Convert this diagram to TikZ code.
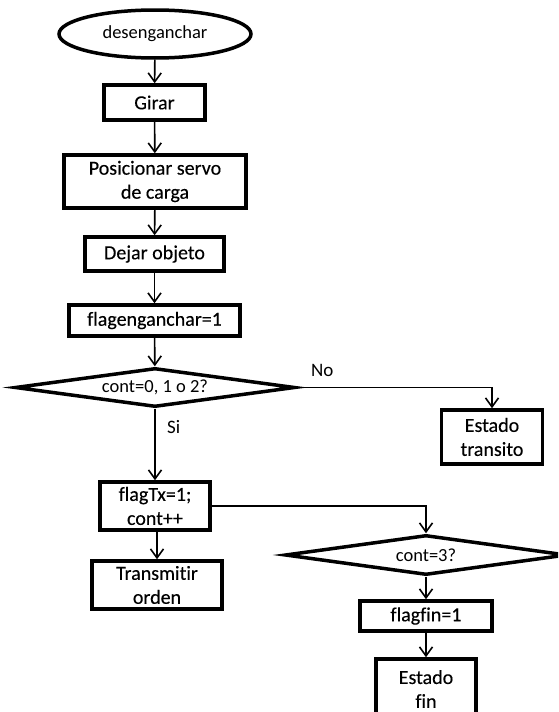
\documentclass[tikz,border=0pt]{standalone}
\usepackage{fontspec}
\setmainfont{Carlito}[Ligatures=NoCommon]
\newfontfamily\boxfont{Carlito}[Ligatures=NoCommon, FakeBold=0.25]
\usetikzlibrary{arrows.meta,shapes.geometric}

\tikzset{
  box/.style={draw, line width=3.5pt, rectangle, align=center, inner sep=0pt,
    font=\boxfont\fontsize{20}{24}\selectfont},
  startnode/.style={draw, line width=3.5pt, ellipse, inner sep=0pt,
    font=\fontsize{18.5}{22}\selectfont},
  decision/.style={draw, line width=3.5pt, diamond, aspect=7, inner sep=0pt,
    font=\fontsize{18.5}{22}\selectfont},
  flow/.style={line width=1.6pt,
    -{Straight Barb[length=9pt,width=13pt]}},
  lbl/.style={font=\fontsize{19}{22}\selectfont, inner sep=0pt},
}

\begin{document}
\begin{tikzpicture}[x=1pt, y=-1pt]
  \useasboundingbox (0,0) rectangle (558,712);
  \clip (0,0) rectangle (558,712);

  % main column
  \node[startnode, minimum width=192pt, minimum height=48pt] (start) at (155,34) {desenganchar};
  \node[box, minimum width=101pt, minimum height=35pt] (girar) at (154.5,102.5) {Girar};
  \node[box, minimum width=182pt, minimum height=53pt] (pos) at (155,181.5) {Posicionar servo\\de carga};
  \node[box, minimum width=139pt, minimum height=34pt] (dejar) at (154.5,254) {Dejar objeto};
  \node[box, minimum width=171pt, minimum height=31pt] (flagen) at (154.5,320.5) {flagenganchar=1};
  \node[decision, minimum width=280pt, minimum height=39pt] (q1) at (155,387.5) {cont=0, 1 o 2?};

  % branch "No"
  \node[box, minimum width=101pt, minimum height=54pt] (transito) at (492,437) {Estado\\transito};

  % branch "Si"
  \node[box, minimum width=110pt, minimum height=48pt] (flagtx) at (155,506) {flagTx=1;\\cont++};
  \node[box, minimum width=130pt, minimum height=48pt] (tx) at (157,585) {Transmitir\\orden};

  % end check
  \node[decision, minimum width=282pt, minimum height=40pt] (q2) at (426,555) {cont=3?};
  \node[box, minimum width=132pt, minimum height=30pt] (flagfin) at (426,616) {flagfin=1};
  \node[box, minimum width=100pt, minimum height=60pt] (fin) at (426,689) {Estado\\fin};

  % connectors
  \draw[flow] (start) -- (girar);
  \draw[flow] (girar) -- (pos);
  \draw[flow] (pos) -- (dejar);
  \draw[flow] (dejar) -- (flagen);
  \draw[flow] (flagen) -- (q1);
  \draw[flow] (q1.east) -| (transito.north);
  \draw[flow] (q1.south) -- (q1.south |- flagtx.north);
  \draw[flow] (flagtx.south -| tx.north) -- (tx.north);
  \draw[flow] (flagtx.east) -| (q2.north);
  \draw[flow] (q2) -- (flagfin);
  \draw[flow] (flagfin) -- (fin);

  % branch labels
  \node[lbl, anchor=west] (no) at (311,370) {No};
  \node[lbl, anchor=west] (si) at (167,427) {Si};
\end{tikzpicture}
\end{document}
